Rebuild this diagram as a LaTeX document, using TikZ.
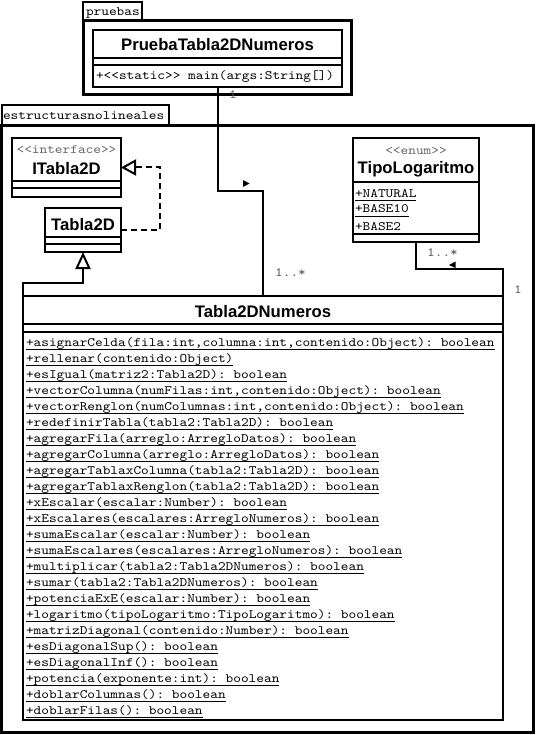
\documentclass[tikz,border=0pt]{standalone}
\usepackage{fontspec}
\setmonofont{lmmono10-regular.otf}[FakeStretch=1.143]
\setsansfont{Liberation Sans}
\usetikzlibrary{arrows.meta}
\begin{document}
\begin{tikzpicture}[x=1pt,y=-1pt,
  cls/.style={draw,line width=2.5pt,inner sep=0pt,outer sep=0pt,fill=white},
  comp/.style={line width=2.5pt},
  pkg/.style={line width=3pt},
  tabline/.style={line width=2pt},
  conn/.style={line width=2pt},
  mono/.style={font=\ttfamily\fontsize{12.8}{14}\selectfont, inner sep=0pt, outer sep=0pt},
  cname/.style={font=\sffamily\bfseries\fontsize{16.7}{20}\selectfont, inner sep=0pt, anchor=base},
  stereo/.style={mono, text=black!60, anchor=base},
  op/.style={mono, anchor=base west},
  mult/.style={mono, text=black!65, anchor=base},
  uline/.style={line width=0.9pt},
]
\useasboundingbox (0,0) rectangle (535,735);
\fill[white] (0,0) rectangle (535,735);

% packages
\draw[tabline] (83,21) -- (83,2) -- (142,2) -- (142,21);
\draw[pkg] (83,21) rectangle (351,95);
\draw[tabline] (1.5,126) -- (1.5,105) -- (169,105) -- (169,126);
\draw[pkg] (1.5,126) rectangle (533,732);

% class boxes
\node[cls, minimum width=249pt, minimum height=57pt] (prueba) at (217.5,58.5) {};
\draw[comp] (93,58) -- (342,58);
\draw[comp] (93,65) -- (342,65);

\node[cls, minimum width=109pt, minimum height=59pt] (it2d) at (66.5,167.5) {};
\draw[comp] (12,181) -- (121,181);
\draw[comp] (12,188) -- (121,188);

\node[cls, minimum width=76pt, minimum height=44pt] (t2d) at (83,230) {};
\draw[comp] (45,237) -- (121,237);
\draw[comp] (45,244) -- (121,244);

\node[cls, minimum width=126pt, minimum height=104pt] (tipo) at (416,190) {};
\draw[comp] (353,182) -- (479,182);
\draw[comp] (353,234) -- (479,234);

\node[cls, minimum width=480pt, minimum height=424pt] (t2dn) at (263,508) {};
\draw[comp] (23,324) -- (503,324);
\draw[comp] (23,332) -- (503,332);

% connectors
\coordinate (k1) at (263,191);
\draw[conn] (prueba.south) |- (k1) -- (t2dn.north -| k1);
\fill (243,180) -- (249.5,183.5) -- (243,187) -- cycle;

\coordinate (a1) at (416,269);
\draw[conn] (t2dn.north east) |- (a1) -- (tipo.south);
\fill (449,265) -- (455.5,261.5) -- (455.5,268) -- cycle;

\coordinate (g2) at (83,283);
\draw[conn,-{Triangle[open,length=17pt,width=15pt]}] (t2dn.north west) |- (g2) -- (t2d.south);

\coordinate (r1) at (160,0);
\draw[conn,dash pattern=on 6pt off 4pt,-{Triangle[open,length=15pt,width=16pt]}] (t2d.east) -| (it2d.east -| r1) -- (it2d.east);

% package labels
\node[mono, anchor=base west] (lpruebas) at (86,16) {pruebas};
\node[mono, anchor=base west] (lestr) at (3,120) {estructurasnolineales};

% class texts
\node[cname] (nprueba) at (217.5,51) {PruebaTabla2DNumeros};
\node[op] (opmain) at (96,80) {+<<static>> main(args:String[])};

\node[stereo] (sit2d) at (66.5,154) {<<interface>>};
\node[cname] (nit2d) at (66.5,175) {ITabla2D};

\node[cname] (nt2d) at (83,230) {Tabla2D};

\node[stereo] (stipo) at (416,155) {<<enum>>};
\node[cname] (ntipo) at (416,174) {TipoLogaritmo};
\foreach \t/\yy [count=\i] in {+NATURAL/197, +BASE10/213, +BASE2/230} {
  \node[op] (lit\i) at (355,\yy) {\t};
  \draw[uline] ([yshift=-3.5pt]lit\i.base west) -- ([yshift=-3.5pt]lit\i.base east);
}

\node[cname] (nt2dn) at (263,317) {Tabla2DNumeros};
\foreach \t [count=\i] in {
  {+asignarCelda(fila:int,columna:int,contenido:Object): boolean},
  {+rellenar(contenido:Object)},
  {+esIgual(matriz2:Tabla2D): boolean},
  {+vectorColumna(numFilas:int,contenido:Object): boolean},
  {+vectorRenglon(numColumnas:int,contenido:Object): boolean},
  {+redefinirTabla(tabla2:Tabla2D): boolean},
  {+agregarFila(arreglo:ArregloDatos): boolean},
  {+agregarColumna(arreglo:ArregloDatos): boolean},
  {+agregarTablaxColumna(tabla2:Tabla2D): boolean},
  {+agregarTablaxRenglon(tabla2:Tabla2D): boolean},
  {+xEscalar(escalar:Number): boolean},
  {+xEscalares(escalares:ArregloNumeros): boolean},
  {+sumaEscalar(escalar:Number): boolean},
  {+sumaEscalares(escalares:ArregloNumeros): boolean},
  {+multiplicar(tabla2:Tabla2DNumeros): boolean},
  {+sumar(tabla2:Tabla2DNumeros): boolean},
  {+potenciaExE(escalar:Number): boolean},
  {+logaritmo(tipoLogaritmo:TipoLogaritmo): boolean},
  {+matrizDiagonal(contenido:Number): boolean},
  {+esDiagonalSup(): boolean},
  {+esDiagonalInf(): boolean},
  {+potencia(exponente:int): boolean},
  {+doblarColumnas(): boolean},
  {+doblarFilas(): boolean}} {
  \node[op] (op\i) at (26,{346+16*(\i-1)}) {\t};
  \draw[uline] ([yshift=-3pt]op\i.base west) -- ([yshift=-3pt]op\i.base east);
}

% multiplicities
\node[mult] (m1) at (233,99) {1};
\node[mult] (m2) at (290.5,276) {1..*};
\node[mult] (m3) at (442.5,256) {1..*};
\node[mult] (m4) at (518,293) {1};
\end{tikzpicture}
\end{document}
